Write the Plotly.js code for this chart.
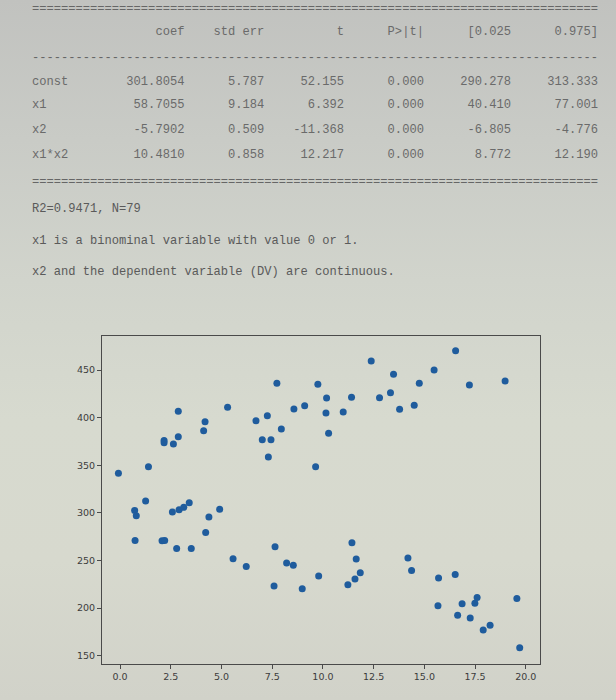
<!DOCTYPE html>
<html>
<head>
<meta charset="utf-8">
<script src="https://cdn.plot.ly/plotly-3.0.1.min.js"></script>
<style>
  html, body { margin: 0; padding: 0; }
  body {
    width: 616px; height: 700px; overflow: hidden;
    background: linear-gradient(to bottom, #c1c2bf 0%, #c9cbc6 20%, #d1d4cc 40%, #d7dacf 60%, #d7d9ce 80%, #d1d2c9 100%);
  }
  #chart { width: 616px; height: 700px; }
</style>
</head>
<body>
<div id="chart"></div>
<script>
// --- regression table (statsmodels style) ---
const rowNames  = ['const', 'x1', 'x2', 'x1*x2'];
const colNames  = ['coef', 'std err', 't', 'P>|t|', '[0.025', '0.975]'];
const coefVals  = [301.8054, 58.7055, -5.7902, 10.4810];
const stdErr    = [5.787, 9.184, 0.509, 0.858];
const tVals     = [52.155, 6.392, -11.368, 12.217];
const pVals     = [0.000, 0.000, 0.000, 0.000];
const ciLow     = [290.278, 40.410, -6.805, 8.772];
const ciHigh    = [313.333, 77.001, -4.776, 12.190];
const noteLines = [
  'R2=0.9471, N=79',
  'x1 is a binominal variable with value 0 or 1.',
  'x2 and the dependent variable (DV) are continuous.'
];

// --- scatter: x2 vs DV ---
const x2Values = [
  -0.08, 1.40, 2.17, 2.17, 2.63, 2.87, 2.87, 4.19, 4.12, 5.30,
  6.70, 7.26, 7.01, 7.44, 7.31, 7.73, 7.95, 8.57, 9.10, 9.64,
  9.75, 10.18, 10.15, 10.28, 11.00, 11.41, 12.38, 12.79, 13.33, 13.48,
  13.78, 14.50, 14.75, 15.48, 16.54, 17.22, 18.98,
  1.26, 0.72, 0.80, 2.58, 2.91, 3.14, 3.41, 4.38, 4.91, 0.74,
  2.07, 2.20, 2.79, 3.51, 4.22, 5.57, 6.22, 7.64, 7.59, 8.21,
  8.54, 8.98, 9.79, 11.43, 11.64, 11.84, 11.58, 11.23, 14.19, 14.37,
  15.70, 16.52, 15.67, 16.86, 16.64, 17.26, 17.60, 17.49, 18.24, 17.90,
  19.56, 19.70
];
const dvValues = [
  341.5, 348.4, 376.1, 373.7, 372.3, 380.0, 406.6, 395.7, 386.2, 410.8,
  396.8, 402.0, 376.8, 376.8, 358.6, 436.0, 388.0, 409.0, 412.5, 348.4,
  435.0, 420.6, 404.8, 383.5, 405.9, 421.3, 459.5, 420.9, 426.2, 445.5,
  408.7, 412.9, 436.0, 450.0, 470.3, 434.2, 438.4,
  312.4, 302.6, 297.0, 300.8, 303.3, 305.8, 310.6, 295.6, 303.7, 271.1,
  270.7, 271.1, 262.7, 262.7, 279.5, 251.8, 243.8, 264.4, 223.1, 247.3,
  244.9, 220.3, 233.6, 268.6, 251.5, 237.1, 230.5, 224.5, 252.5, 239.6,
  231.5, 235.4, 202.4, 204.5, 192.6, 189.5, 211.2, 205.0, 182.1, 176.9,
  210.2, 158.3
];

const W = 616, H = 700;
const px = v => v / W;
const py = v => 1 - v / H;
const NB = '\u00A0';
const pad = (s, n, left) => {
  s = String(s);
  while (s.length < n) s = left ? NB + s : s + NB;
  return s;
};
const widths = [11, 11, 11, 11, 12, 12];

const monoFont = { family: 'Liberation Mono, Courier New, monospace', size: 12.1, color: '#6a6a6a' };

function textLine(str, y, color) {
  return {
    xref: 'paper', yref: 'paper', x: px(30), y: py(y),
    xanchor: 'left', yanchor: 'middle', showarrow: false,
    text: str.replace(/ /g, NB),
    font: Object.assign({}, monoFont, color ? { color: color } : {})
  };
}

const annotations = [];
annotations.push(textLine('='.repeat(78), 9, '#666666'));
let header = pad('', 10, false);
colNames.forEach((c, i) => { header += pad(c, widths[i], true); });
annotations.push(textLine(header, 32));
annotations.push(textLine('-'.repeat(78), 58, '#666666'));
const rowY = [82, 105.5, 130.5, 155];
rowNames.forEach((name, r) => {
  const cells = [
    coefVals[r].toFixed(4), stdErr[r].toFixed(3), tVals[r].toFixed(3),
    pVals[r].toFixed(3), ciLow[r].toFixed(3), ciHigh[r].toFixed(3)
  ];
  let s = pad(name, 10, false);
  cells.forEach((c, i) => { s += pad(c, widths[i], true); });
  annotations.push(textLine(s, rowY[r]));
});
annotations.push(textLine('='.repeat(78), 182, '#666666'));
const noteY = [209, 240.5, 272];
noteLines.forEach((t, i) => annotations.push(textLine(t, noteY[i], '#5a5a5a')));

const trace = {
  x: x2Values,
  y: dvValues,
  type: 'scatter',
  mode: 'markers',
  marker: { size: 7, color: '#1f5c9d' },
  hoverinfo: 'x+y'
};

const axisCommon = {
  showline: true, mirror: true, linecolor: '#4a4a4a', linewidth: 1,
  showgrid: false, zeroline: false,
  ticks: 'outside', ticklen: 4, tickwidth: 1, tickcolor: '#4a4a4a',
  tickfont: { family: 'DejaVu Sans, sans-serif', size: 9.5, color: '#3c3c3c' }
};

const layout = {
  width: W, height: H,
  margin: { l: 0, r: 0, t: 0, b: 0 },
  paper_bgcolor: 'rgba(0,0,0,0)',
  plot_bgcolor: 'rgba(0,0,0,0)',
  showlegend: false,
  xaxis: Object.assign({}, axisCommon, {
    domain: [px(102), px(540)],
    range: [-0.89, 20.70],
    tickvals: [0, 2.5, 5, 7.5, 10, 12.5, 15, 17.5, 20],
    tickformat: '.1f'
  }),
  yaxis: Object.assign({}, axisCommon, {
    domain: [py(664), py(336)],
    range: [141.3, 485.7],
    tick0: 150, dtick: 50
  }),
  annotations: annotations
};

Plotly.newPlot('chart', [trace], layout, { displayModeBar: false, staticPlot: true });
</script>
</body>
</html>
